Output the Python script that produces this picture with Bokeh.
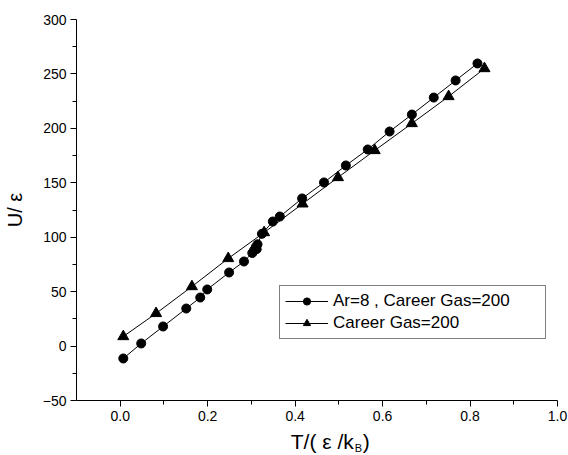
from bokeh.plotting import figure
from bokeh.layouts import column
from bokeh.models import Legend, LegendItem, Range1d, FixedTicker, NumeralTickFormatter
from bokeh.core.properties import value
from bokeh.embed import file_html
from bokeh.resources import INLINE

# Series: Ar=8 , Career Gas=200 (circles)
ar_T = [0.007, 0.048, 0.098, 0.151, 0.183, 0.199, 0.249, 0.283, 0.302, 0.306,
        0.310, 0.312, 0.314, 0.324, 0.349, 0.365, 0.416, 0.466, 0.516, 0.566,
        0.616, 0.667, 0.717, 0.767, 0.817]
ar_U = [-11.4, 2.4, 18.0, 34.5, 44.6, 52.0, 67.6, 77.7, 85.5, 88.0,
        91.0, 89.0, 93.5, 103.1, 114.4, 119.0, 135.6, 150.3, 165.9, 180.6,
        197.1, 212.7, 228.3, 244.0, 259.6]

# Series: Career Gas=200 (triangles)
cg_T = [0.007, 0.082, 0.164, 0.247, 0.329, 0.417, 0.498, 0.582, 0.667, 0.751, 0.833]
cg_U = [8.8, 30.0, 54.7, 80.5, 104.3, 130.7, 154.9, 179.7, 204.5, 229.3, 255.0]

series_labels = ["Ar=8 , Career Gas=200", "Career Gas=200"]
x_ticks = [0.0, 0.2, 0.4, 0.6, 0.8, 1.0]
x_minor = [0.1, 0.3, 0.5, 0.7, 0.9]
y_ticks = [-50, 0, 50, 100, 150, 200, 250, 300]
y_minor = [-25, 25, 75, 125, 175, 225, 275]
y_title = "U/ ε"
x_title_parts = ["T/( ε /k", "B", ")"]

W = 568
p = figure(width=W, height=428, x_range=Range1d(-0.1, 1.0), y_range=Range1d(-50, 300),
           output_backend="svg", toolbar_location=None,
           min_border_left=75, min_border_right=11, min_border_top=19, min_border_bottom=28)
p.outline_line_color = None
p.xgrid.visible = False
p.ygrid.visible = False

tick_font = "Liberation Sans"
for ax in (p.xaxis[0], p.yaxis[0]):
    ax.axis_line_color = "black"
    ax.axis_line_width = 1
    ax.major_tick_line_color = "black"
    ax.minor_tick_line_color = "black"
    ax.major_tick_in = 0
    ax.major_tick_out = 6
    ax.minor_tick_in = 0
    ax.minor_tick_out = 4
    ax.major_label_text_font = tick_font
    ax.major_label_text_font_size = "14px"
    ax.major_label_text_color = "black"
    ax.major_label_standoff = 4

p.xaxis.ticker = FixedTicker(ticks=x_ticks, minor_ticks=x_minor)
p.yaxis.ticker = FixedTicker(ticks=y_ticks, minor_ticks=y_minor)
p.xaxis.formatter = NumeralTickFormatter(format="0.0")

p.yaxis.axis_label = y_title
p.yaxis.axis_label_text_font = "Liberation Sans"
p.yaxis.axis_label_text_font_size = "20px"
p.yaxis.axis_label_text_font_style = "normal"
p.yaxis.axis_label_text_color = "black"
p.yaxis.axis_label_standoff = 14

l1 = p.line(ar_T, ar_U, line_color="black", line_width=1)
s1 = p.scatter(ar_T, ar_U, marker="circle", size=9, fill_color="black", line_color="black")
l2 = p.line(cg_T, cg_U, line_color="black", line_width=1)
s2 = p.scatter(cg_T, cg_U, marker="triangle", size=11, fill_color="black", line_color="black")

legend = Legend(items=[LegendItem(label=series_labels[0], renderers=[l1, s1]),
                       LegendItem(label=series_labels[1], renderers=[l2, s2])],
                location=(203, 61), padding=5, spacing=2, margin=0,
                glyph_width=43, glyph_height=18, label_height=18, label_standoff=5,
                label_width=207,
                label_text_font="Liberation Sans", label_text_font_size="17px",
                label_text_color="black",
                border_line_color="black", border_line_width=1,
                background_fill_color="white", background_fill_alpha=1.0)
p.add_layout(legend)

# strip below the plot that carries the x-axis title (with subscript)
p2 = figure(width=W, height=27, x_range=p.x_range, y_range=Range1d(0, 1),
            output_backend="svg", toolbar_location=None,
            x_axis_type=None, y_axis_type=None,
            min_border_left=75, min_border_right=11, min_border_top=0, min_border_bottom=0)
p2.outline_line_color = None
p2.xgrid.visible = False
p2.ygrid.visible = False
xf = value("Liberation Sans")
title_x = 0.39
p2.text(x=[title_x], y=[1.0], text=[x_title_parts[0]], text_font=xf, text_font_size="21px",
        text_baseline="top", text_align="left", text_color="black", y_offset=1)
p2.text(x=[title_x], y=[1.0], text=[x_title_parts[1]], text_font=xf, text_font_size="11px",
        text_baseline="top", text_align="left", text_color="black", x_offset=64, y_offset=13)
p2.text(x=[title_x], y=[1.0], text=[x_title_parts[2]], text_font=xf, text_font_size="21px",
        text_baseline="top", text_align="left", text_color="black", x_offset=72, y_offset=1)

layout = column(p, p2, spacing=0)
open("out.html", "w").write(file_html(layout, INLINE))
